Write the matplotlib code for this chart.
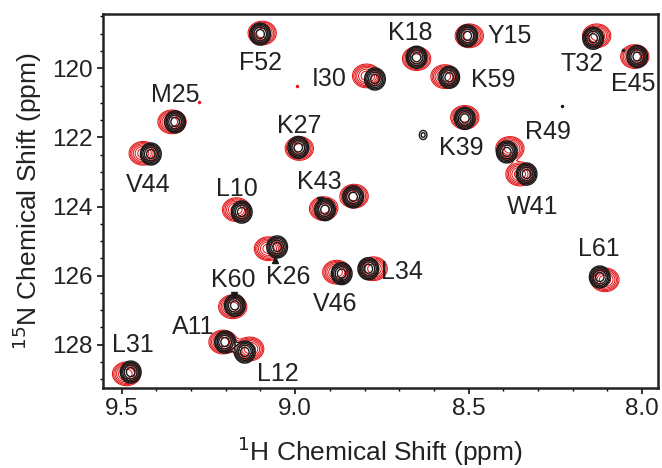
import numpy as np
import matplotlib
matplotlib.use("Agg")
import matplotlib.pyplot as plt
from matplotlib.ticker import MultipleLocator

plt.rcParams['font.family'] = ['Liberation Sans', 'DejaVu Sans']

# residue assignments, black spectrum peaks (1H, 15N)
names = ['F52', 'I30', 'M25', 'V44', 'K27', 'K18', 'Y15', 'K59', 'T32', 'E45',
         'K39', 'R49', 'W41', 'L10', 'K43', '', 'K26', 'V46', 'L34', 'K60',
         'A11', 'L12', 'L31', 'L61']
black_h = [9.101, 8.770, 9.346, 9.416, 8.991, 8.650, 8.504, 8.556, 8.141, 8.014,
           8.511, 8.390, 8.333, 9.154, 8.914, 8.833, 9.052, 8.866, 8.789, 9.174,
           9.202, 9.145, 9.474, 8.122]
black_n = [119.01, 120.31, 121.55, 122.48, 122.29, 119.68, 119.06, 120.26, 119.13, 119.66,
           121.45, 122.42, 123.06, 124.16, 124.09, 123.72, 125.17, 125.94, 125.80, 126.86,
           127.92, 128.21, 128.79, 126.04]
# red spectrum peaks
red_h = [9.095, 8.794, 9.355, 9.438, 8.988, 8.650, 8.498, 8.568, 8.131, 8.021,
         8.511, 8.381, 8.352, 9.169, 8.918, 8.830, 9.077, 8.880, 8.775, 9.180,
         9.208, 9.131, 9.486, 8.107]
red_n = [118.98, 120.22, 121.55, 122.46, 122.32, 119.72, 119.06, 120.24, 119.06, 119.66,
         121.42, 122.32, 123.06, 124.09, 124.06, 123.70, 125.22, 125.90, 125.80, 126.90,
         127.92, 128.12, 128.84, 126.12]
# label positions
label_h = [9.101, 8.902, 9.346, 9.423, 8.988, 8.669, 8.381, 8.429, 8.174, 8.026,
           8.520, 8.271, 8.314, 9.169, 8.929, None, 9.020, 8.885, 8.693, 9.178,
           9.294, 9.049, 9.467, 8.124]
label_n = [119.84, 120.32, 120.77, 123.38, 121.67, 118.99, 119.06, 120.34, 119.88, 120.46,
           122.32, 121.84, 124.01, 123.48, 123.29, None, 126.04, 126.81, 125.90, 126.14,
           127.49, 128.84, 128.02, 125.22]

# weak extra signals
weak_black_h = [8.631]
weak_black_n = [121.93]
dot_black_h = [8.230, 8.055]
dot_black_n = [121.09, 119.47]
dot_red_h = [8.996, 9.276]
dot_red_n = [120.51, 120.97]

# tails (pointer triangles) on some black peaks
tail_h = [8.929, 9.058, 8.869, 9.176]
tail_n = [123.80, 125.55, 126.14, 126.56]
tail_m = ['v', '^', '^', 'v']

H, N = np.meshgrid(np.linspace(7.9, 9.6, 900), np.linspace(118.2, 129.5, 600))


def spectrum(hs, ns, sh, sn, amp=1.0):
    z = np.zeros_like(H)
    for h, n in zip(hs, ns):
        z += amp * np.exp(-0.5 * ((H - h) / sh) ** 2 - 0.5 * ((N - n) / sn) ** 2)
    return z


red_z = spectrum(red_h, red_n, 0.019, 0.16)
black_z = spectrum(black_h, black_n, 0.0145, 0.155) + spectrum(weak_black_h, weak_black_n, 0.01, 0.12, 0.22)

fig = plt.figure(figsize=(6.62, 4.68), dpi=100)
ax = fig.add_axes([0.155, 0.171, 0.839, 0.799])

ax.contour(H, N, red_z, levels=np.geomspace(0.1, 0.7, 6), colors='#e41a1c', linewidths=0.75)
ax.contour(H, N, black_z, levels=np.geomspace(0.12, 0.7, 5), colors='#1a1a1a', linewidths=1.0)
ax.plot(dot_black_h, dot_black_n, 'o', color='#1a1a1a', ms=1.5)
ax.plot(dot_red_h, dot_red_n, 'o', color='#e41a1c', ms=1.5)
for h, n, m in zip(tail_h, tail_n, tail_m):
    ax.plot(h, n, marker=m, color='#1a1a1a', ms=5, ls='none')

for name, h, n in zip(names, label_h, label_n):
    if name:
        ax.text(h, n, name, fontsize=18, color='#222222', ha='center', va='center')

ax.set_xlim(9.555, 7.954)
ax.set_ylim(129.25, 118.43)
ax.xaxis.set_major_locator(MultipleLocator(0.5))
ax.xaxis.set_minor_locator(MultipleLocator(0.1))
ax.yaxis.set_major_locator(MultipleLocator(2))
ax.yaxis.set_minor_locator(MultipleLocator(0.5))
ax.xaxis.set_major_formatter(plt.FormatStrFormatter('%.1f'))
ax.tick_params(which='major', direction='out', length=4, width=1.3, labelsize=17.5,
               colors='#222222', pad=3)
ax.tick_params(which='minor', direction='out', length=2.5, width=1.0)
for s in ax.spines.values():
    s.set_linewidth(1.8)
    s.set_color('#222222')

ax.set_xlabel('$^{1}$H Chemical Shift (ppm)', fontsize=19, color='#222222', labelpad=11)
ax.set_ylabel('$^{15}$N Chemical Shift (ppm)', fontsize=19, color='#222222', labelpad=6)

fig.savefig('out.png', dpi=100)
